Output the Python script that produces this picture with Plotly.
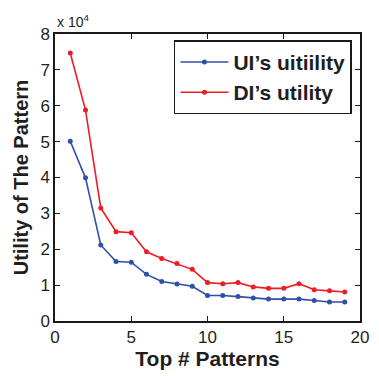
import plotly.graph_objects as go

# Top-k pattern ranks and the utility of each pattern
top_k = list(range(1, 20))
ui_utility = [50100, 39900, 21200, 16600, 16400, 13000, 11000, 10300, 9700, 7100,
              7100, 6800, 6400, 6100, 6100, 6100, 5700, 5300, 5300]
di_utility = [74700, 58800, 31500, 24900, 24600, 19300, 17400, 16000, 14400, 10700,
              10400, 10700, 9500, 9100, 9100, 10400, 8700, 8400, 8100]

scale = 1e4
x_ticks = [0, 5, 10, 15, 20]
y_ticks = [0, 1, 2, 3, 4, 5, 6, 7, 8]

font_family = "Liberation Sans, Arial, sans-serif"
axis_color = "#1a1a1a"
text_color = "#1e1e1e"

fig = go.Figure()
fig.add_trace(go.Scatter(
    x=top_k, y=[v / scale for v in ui_utility], mode="lines+markers",
    name="<b>UI\u2019s uitiility</b>",
    line=dict(color="#2f4fa8", width=1.6),
    marker=dict(color="#2f4fa8", size=5),
))
fig.add_trace(go.Scatter(
    x=top_k, y=[v / scale for v in di_utility], mode="lines+markers",
    name="<b>DI\u2019s utility</b>",
    line=dict(color="#ee1c25", width=1.6),
    marker=dict(color="#ee1c25", size=5),
))

axis_common = dict(
    showline=True, linecolor=axis_color, linewidth=1.5, mirror="ticks",
    ticks="inside", ticklen=5, tickwidth=1, tickcolor=axis_color,
    showgrid=False, zeroline=False,
    tickfont=dict(family=font_family, size=17, color=text_color),
)

fig.update_layout(
    width=379, height=376,
    margin=dict(l=55, r=10, t=34, b=52),
    plot_bgcolor="white", paper_bgcolor="white",
    font=dict(family=font_family, color=text_color),
    xaxis=dict(
        range=[0, 20], tickvals=x_ticks,
        title=dict(text="<b>Top # Patterns</b>", font=dict(size=21, color=text_color), standoff=4),
        **axis_common,
    ),
    yaxis=dict(
        range=[0, 8], tickvals=y_ticks,
        title=dict(text="<b>Utility of The Pattern</b>", font=dict(size=20, color=text_color), standoff=6),
        **axis_common,
    ),
    legend=dict(
        x=0.39, y=0.978, xanchor="left", yanchor="top",
        bgcolor="white", bordercolor=axis_color, borderwidth=1.5,
        font=dict(family=font_family, size=21, color=text_color),
        tracegroupgap=0, itemsizing="trace", itemwidth=48,
    ),
    showlegend=True,
    annotations=[dict(
        text="x 10<sup>4</sup>", xref="paper", yref="paper",
        x=0.0, y=1.0, xanchor="left", yanchor="bottom", yshift=2, showarrow=False,
        font=dict(family=font_family, size=14, color=text_color),
    )],
)

fig.write_html("out.html")
